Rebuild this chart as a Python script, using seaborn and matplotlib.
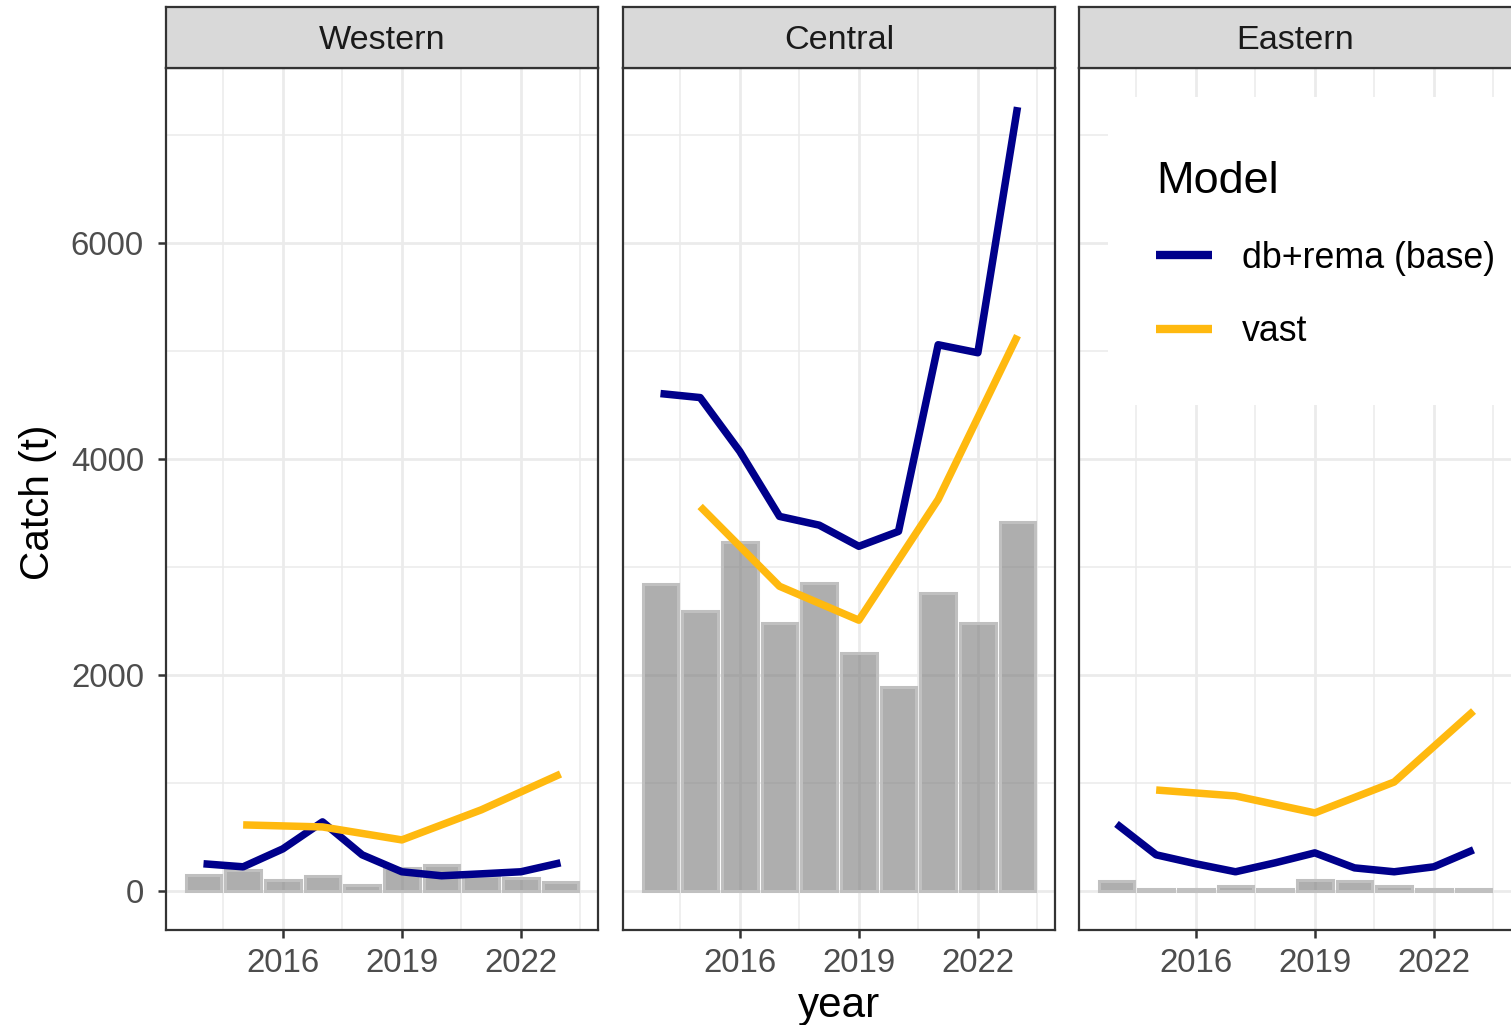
import numpy as np
import pandas as pd
import matplotlib
matplotlib.use('Agg')
import matplotlib.pyplot as plt
from matplotlib.patches import Rectangle
import seaborn as sns

regions = ['Western', 'Central', 'Eastern']
years = [2014, 2015, 2016, 2017, 2018, 2019, 2020, 2021, 2022, 2023]
survey_years = [2015, 2017, 2019, 2021, 2023]

# observed catch (bars)
catch_western = [148, 194, 102, 139, 55, 212, 240, 139, 120, 83]
catch_central = [2837, 2588, 3225, 2477, 2847, 2200, 1885, 2754, 2477, 3410]
catch_eastern = [92, 18, 20, 45, 20, 100, 92, 45, 14, 12]

# db+rema (base) model, yearly
rema_western = [250, 222, 388, 638, 333, 176, 139, 157, 176, 259]
rema_central = [4603, 4566, 4067, 3466, 3385, 3189, 3327, 5055, 4981, 7255]
rema_eastern = [619, 333, 250, 176, 259, 351, 212, 176, 222, 379]

# vast model, survey years only
vast_western = [610, 591, 471, 749, 1081]
vast_central = [3558, 2819, 2505, 3623, 5139]
vast_eastern = [933, 878, 721, 1007, 1664]

models = ['db+rema (base)', 'vast']
model_colors = {'db+rema (base)': '#00008B', 'vast': '#FFB90F'}

catch = {'Western': catch_western, 'Central': catch_central, 'Eastern': catch_eastern}
rema = {'Western': rema_western, 'Central': rema_central, 'Eastern': rema_eastern}
vast = {'Western': vast_western, 'Central': vast_central, 'Eastern': vast_eastern}

rows = []
for r in regions:
    for y, v in zip(years, catch[r]):
        rows.append([r, y, v])
df_catch = pd.DataFrame(rows, columns=['region', 'year', 'catch'])

rows = []
for r in regions:
    for y, v in zip(years, rema[r]):
        rows.append([r, 'db+rema (base)', y, v])
    for y, v in zip(survey_years, vast[r]):
        rows.append([r, 'vast', y, v])
df_model = pd.DataFrame(rows, columns=['region', 'model', 'year', 'value'])

sns.set_style('white')
plt.rcParams['font.family'] = ['Liberation Sans', 'DejaVu Sans']

W, H = 1511, 1025
fig = plt.figure(figsize=(W / 200, H / 200), dpi=200)

panel_left = [166, 623, 1079]
panel_w = 432
panel_top, panel_bot = 68, 930
strip_top = 7

for i, r in enumerate(regions):
    ax = fig.add_axes([panel_left[i] / W, 1 - panel_bot / H, panel_w / W, (panel_bot - panel_top) / H])
    ax.set_axisbelow(True)
    sub = df_catch[df_catch['region'] == r]
    sns.barplot(data=sub, x='year', y='catch', native_scale=True, width=0.9,
                errorbar=None, ax=ax, color='gray')
    for p in ax.patches:
        p.set_facecolor((0.5, 0.5, 0.5, 0.64))
        p.set_edgecolor('#C0C0C0')
        p.set_linewidth(1.1)
    subm = df_model[df_model['region'] == r]
    sns.lineplot(data=subm, x='year', y='value', hue='model', hue_order=models,
                 palette=model_colors, linewidth=2.7, ax=ax, legend=False,
                 solid_capstyle='butt')

    ax.set_xlim(2013.055, 2023.945)
    ax.set_ylim(-363, 7617)
    ax.set_xticks([2016, 2019, 2022])
    ax.set_xticks([2014.5, 2017.5, 2020.5, 2023.5], minor=True)
    ax.set_yticks([0, 2000, 4000, 6000])
    ax.set_yticks([1000, 3000, 5000, 7000], minor=True)
    ax.grid(which='major', color='#EBEBEB', linewidth=1.0)
    ax.grid(which='minor', color='#EBEBEB', linewidth=0.55)
    ax.tick_params(which='major', length=2.75, width=0.9, color='#333333',
                   labelsize=11.9, labelcolor='#4D4D4D', direction='out')
    ax.tick_params(axis='x', pad=3.6)
    ax.tick_params(axis='y', pad=5.2)
    ax.tick_params(which='minor', length=0)
    ax.xaxis.set_ticks_position('bottom')
    ax.yaxis.set_ticks_position('left')
    if i > 0:
        ax.tick_params(axis='y', which='major', length=0, labelleft=False)
    for s in ax.spines.values():
        s.set_color('#333333')
        s.set_linewidth(0.8)
    if i == 2:
        # the picture is cut at the right edge
        ax.spines['right'].set_visible(False)
    ax.set_xlabel('')
    ax.set_ylabel('')

    sax = fig.add_axes([panel_left[i] / W, 1 - panel_top / H, panel_w / W, (panel_top - strip_top) / H])
    sax.set_facecolor('#D9D9D9')
    sax.set_xticks([])
    sax.set_yticks([])
    for s in sax.spines.values():
        s.set_color('#333333')
        s.set_linewidth(0.8)
    if i == 2:
        sax.spines['right'].set_visible(False)
    sax.text(0.5, 0.315, r, ha='center', va='baseline', fontsize=12.3, color='#1A1A1A',
             transform=sax.transAxes)

fig.text(839 / W, 1 - 1006 / H, 'year', ha='center', va='center', fontsize=15.2, color='black')
fig.text(38 / W, 1 - 502 / H, 'Catch (t)', ha='center', va='center', rotation=90,
         fontsize=14.6, color='black')

# white legend background inside the Eastern panel
fig.add_artist(Rectangle((1108 / W, 1 - 405 / H), (W - 1108) / W, (405 - 97) / H,
                         transform=fig.transFigure, facecolor='white', edgecolor='none',
                         zorder=4))

handles = [plt.Line2D([], [], color=model_colors[m], linewidth=3.0, solid_capstyle='butt') for m in models]
leg = fig.legend(handles, models, title='Model', loc='upper left',
                 bbox_to_anchor=(1156 / W, 1 - 161 / H), fontsize=12.9,
                 title_fontsize=16.2, frameon=False,
                 borderpad=0, labelspacing=1.08, handlelength=1.56,
                 handletextpad=0.84, borderaxespad=0, labelcolor='black')
leg.get_title().set_color('black')
leg._legend_box.align = 'left'
leg.set_zorder(5)

fig.savefig('out.png', dpi=200)
